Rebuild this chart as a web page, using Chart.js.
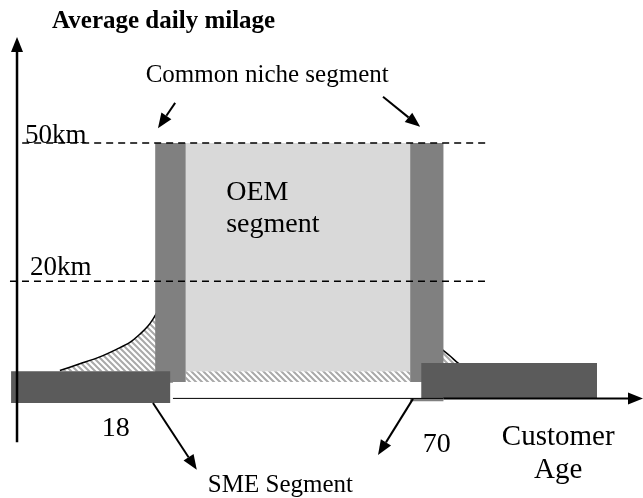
<!DOCTYPE html>
<html>
<head>
<meta charset="utf-8">
<script src="https://cdn.jsdelivr.net/npm/chart.js@4"></script>
<style>
  html, body { margin: 0; padding: 0; background: #fff; }
  canvas { display: block; }
</style>
</head>
<body>
<canvas id="chart" width="643" height="498"></canvas>
<script>
// segments: customer age (x) against average daily milage in km (y)
const oemAges = [23.5, 64];
const oemKm = [0.5, 50];
const nicheLeftAges = [18, 23.5];
const nicheLeftKm = [-2, 50];
const nicheRightAges = [64, 70];
const nicheRightKm = [-6, 50];
const smeLeftAges = [-8, 20.7];
const smeLeftKm = [-6.4, 0.5];
const smeRightAges = [66, 97.7];
const smeRightKm = [-5.3, 2.3];
const stripAges = [23.5, 64];
const stripKm = [-2, 0.5];
const gapAges = [21.2, 66.7];
const gapKm = [-5.3, -1.85];

// SME demand tails either side of the OEM block
const tailLeftAges = [0.8, 4.4, 8.0, 11.1, 13.5, 15.3, 16.7, 17.6, 18.5];
const tailLeftKm = [0.65, 2.1, 3.6, 5.3, 6.8, 8.6, 10.3, 11.8, 13.6];
const tailRightAges = [68.5, 69.7, 71.2, 72.6, 74.4];
const tailRightKm = [6.6, 5.3, 3.8, 2.3, 1.0];

// milage levels
const levelKm = [50, 20];
const levelLabels = ['50km', '20km'];
const levelFrom = [-6, -8.2];
const levelTo = [77.7, 77.7];

const ageTicks = ['18', '70'];

function rect(ages, km) {
    return [
        {x: ages[0], y: km[0]}, {x: ages[1], y: km[0]},
        {x: ages[1], y: km[1]}, {x: ages[0], y: km[1]},
        {x: ages[0], y: km[0]}
    ];
}

function zip(xs, ys) {
    return xs.map((x, i) => ({x: x, y: ys[i]}));
}

// hatch fill
const tile = document.createElement('canvas');
tile.width = 6;
tile.height = 6;
const tc = tile.getContext('2d');
tc.fillStyle = '#fff';
tc.fillRect(0, 0, 6, 6);
tc.strokeStyle = '#a9a9a9';
tc.lineWidth = 2;
tc.beginPath();
tc.moveTo(-1, -1); tc.lineTo(7, 7);
tc.moveTo(-1, 5); tc.lineTo(1, 7);
tc.moveTo(5, -1); tc.lineTo(7, 1);
tc.stroke();
const hatch = tc.createPattern(tile, 'repeat');

function block(data, color, order) {
    return {
        data: data, showLine: true, fill: 'shape', backgroundColor: color,
        borderColor: 'rgba(0,0,0,0)', borderWidth: 0, pointRadius: 0, order: order
    };
}

let datasets = [
    {data: zip(tailLeftAges, tailLeftKm), showLine: true, fill: {value: 0.5}, backgroundColor: hatch,
     borderColor: '#000', borderWidth: 1.5, pointRadius: 0, tension: 0.3, order: 12},
    {data: zip(tailRightAges, tailRightKm), showLine: true, fill: {value: 0.5}, backgroundColor: hatch,
     borderColor: '#000', borderWidth: 1.5, pointRadius: 0, tension: 0.3, order: 12},
    block(rect(stripAges, stripKm), hatch, 11),
    block(rect(oemAges, oemKm), '#d9d9d9', 10),
    block(rect(nicheLeftAges, nicheLeftKm), '#808080', 9),
    block(rect(nicheRightAges, nicheRightKm), '#808080', 9),
    block(rect(gapAges, gapKm), '#ffffff', 8),
    block(rect(smeLeftAges, smeLeftKm), '#5b5b5b', 7),
    block(rect(smeRightAges, smeRightKm), '#5b5b5b', 7)
];
levelKm.forEach((k, i) => {
    datasets.push({
        data: [{x: levelFrom[i], y: k}, {x: levelTo[i], y: k}],
        showLine: true, fill: false, borderColor: '#000', borderWidth: 1.5,
        borderDash: [7, 5], pointRadius: 0, order: 5
    });
});

// thin part of the age axis under the gap
datasets.push({
    data: [{x: 21.2, y: -5.4}, {x: 70, y: -5.4}],
    showLine: true, fill: false, borderColor: '#000', borderWidth: 1,
    pointRadius: 0, order: 4
});

// arrows [fromAge, fromKm, toAge, toKm, width]
const arrows = [
    [-6.93, -14.9, -6.93, 73, 2.5],
    [70, -5.4, 106, -5.4, 2],
    [21.6, 58.7, 18.5, 53.2, 2],
    [59.1, 60, 65.8, 53.5, 2],
    [17.6, -6.4, 25.5, -20.9, 2],
    [64.5, -5.5, 58.2, -17.7, 2]
];

const serif = '"Liberation Serif", "Times New Roman", serif';
const notes = [
    ['Average daily milage', -0.6, 74.9, 'bold 25px', 'left'],
    ['Common niche segment', 38.2, 63.2, '25px', 'center'],
    [levelLabels[0], -5.5, 50.0, '27px', 'left'],
    [levelLabels[1], -4.6, 21.4, '27px', 'left'],
    ['OEM', 30.8, 37.6, '28px', 'left'],
    ['segment', 30.8, 30.7, '28px', 'left'],
    [ageTicks[0], 10.9, -13.6, '28px', 'center'],
    [ageTicks[1], 68.8, -17, '28px', 'center'],
    ['Customer', 90.7, -15.5, '29px', 'center'],
    ['Age', 90.7, -22.7, '29px', 'center'],
    ['SME Segment', 27.5, -25.7, '25px', 'left']
];

const overlay = {
    id: 'overlay',
    afterDatasetsDraw(chart) {
        const ctx = chart.ctx;
        const sx = chart.scales.x, sy = chart.scales.y;
        ctx.save();
        ctx.strokeStyle = '#000';
        ctx.fillStyle = '#000';
        arrows.forEach(a => {
            const x0 = sx.getPixelForValue(a[0]), y0 = sy.getPixelForValue(a[1]);
            const x1 = sx.getPixelForValue(a[2]), y1 = sy.getPixelForValue(a[3]);
            const ang = Math.atan2(y1 - y0, x1 - x0);
            const len = 15, half = 6;
            const bx = x1 - len * Math.cos(ang), by = y1 - len * Math.sin(ang);
            ctx.lineWidth = a[4];
            ctx.beginPath();
            ctx.moveTo(x0, y0);
            ctx.lineTo(bx, by);
            ctx.stroke();
            ctx.beginPath();
            ctx.moveTo(x1, y1);
            ctx.lineTo(bx + half * Math.sin(ang), by - half * Math.cos(ang));
            ctx.lineTo(bx - half * Math.sin(ang), by + half * Math.cos(ang));
            ctx.closePath();
            ctx.fill();
        });
        ctx.textBaseline = 'alphabetic';
        notes.forEach(n => {
            ctx.font = n[3] + ' ' + serif;
            ctx.textAlign = n[4];
            ctx.fillText(n[0], sx.getPixelForValue(n[1]), sy.getPixelForValue(n[2]));
        });
        ctx.restore();
    }
};

new Chart(document.getElementById('chart'), {
    type: 'scatter',
    data: {datasets: datasets},
    options: {
        responsive: false,
        animation: false,
        events: [],
        layout: {padding: 0},
        plugins: {legend: {display: false}, tooltip: {enabled: false}},
        scales: {
            x: {type: 'linear', min: -10, max: 106, display: false},
            y: {type: 'linear', min: -27, max: 81, display: false}
        }
    },
    plugins: [overlay]
});
</script>
</body>
</html>
